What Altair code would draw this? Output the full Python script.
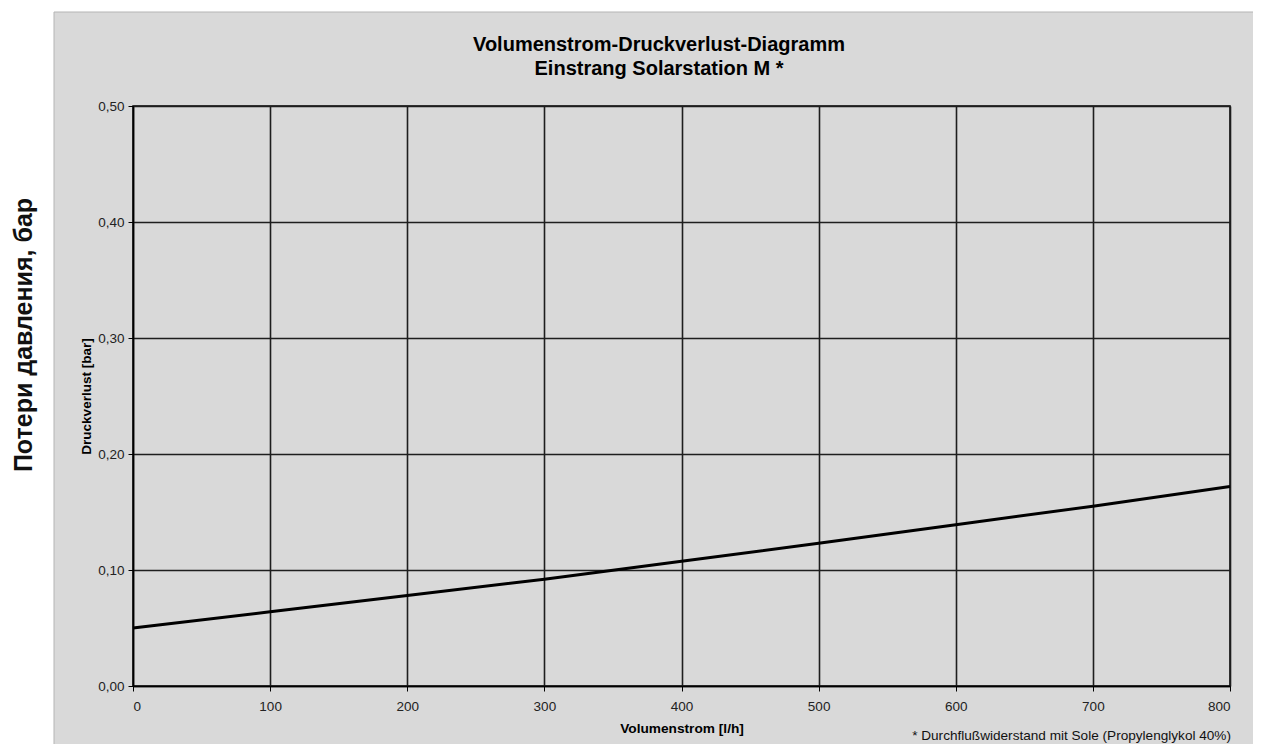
import altair as alt
import pandas as pd

flow = [0, 100, 200, 300, 400, 500, 600, 700, 800]
pressure = [0.050, 0.064, 0.078, 0.092, 0.1075, 0.123, 0.139, 0.155, 0.172]

title_lines = ["Volumenstrom-Druckverlust-Diagramm", "Einstrang Solarstation M *"]
x_title = "Volumenstrom [l/h]"
y_title = "Druckverlust [bar]"
outer_label = "Потери давления, бар"
footnote = "* Durchflußwiderstand mit Sole (Propylenglykol 40%)"

x_ticks = [0, 100, 200, 300, 400, 500, 600, 700, 800]
y_ticks = [0.0, 0.1, 0.2, 0.3, 0.4, 0.5]

FONT = "Liberation Sans"
W, H = 1097, 580
GRAY = "#d9d9d9"

df = pd.DataFrame({"flow": flow, "pressure": pressure})
one = alt.Data(values=[{"a": 1}])

# white margin outside the gray panel (left strip and thin top strip)
white_left = alt.Chart(one).mark_rect(fill="white", clip=False).encode(
    x=alt.value(-130), x2=alt.value(-79), y=alt.value(-110), y2=alt.value(H + 70)
)
white_top = alt.Chart(one).mark_rect(fill="white", clip=False).encode(
    x=alt.value(-130), x2=alt.value(W + 40), y=alt.value(-110), y2=alt.value(-94)
)
panel_border = alt.Chart(one).mark_rect(
    fill=None, stroke="#b5b5b5", strokeWidth=1, clip=False
).encode(
    x=alt.value(-79), x2=alt.value(W + 60), y=alt.value(-94), y2=alt.value(H + 80)
)

xs = alt.Scale(domain=[0, 800], nice=False, zero=True)
ys = alt.Scale(domain=[0, 0.5], nice=False, zero=True)

line = alt.Chart(df).mark_line(color="#000000", strokeWidth=3).encode(
    x=alt.X("flow:Q", scale=xs, axis=alt.Axis(
        values=x_ticks, title=x_title, grid=True, gridColor="#1e1e1e", gridWidth=1.6,
        domainColor="#000000", domainWidth=1.5, tickColor="#000000", tickSize=5,
        labelFont=FONT, labelFontSize=13.5, labelColor="#222222", labelPadding=8,
        titleFont=FONT, titleFontSize=13.7, titleFontWeight="bold", titleColor="#000000",
        titlePadding=9,
    )),
    y=alt.Y("pressure:Q", scale=ys, axis=alt.Axis(
        values=y_ticks, title=y_title, grid=True, gridColor="#1e1e1e", gridWidth=1.4,
        domainColor="#000000", domainWidth=1.5, tickColor="#000000", tickSize=5,
        labelFont=FONT, labelFontSize=13.5, labelColor="#222222", labelPadding=4,
        labelExpr="replace(format(datum.value, '.2f'), '.', ',')",
        titleFont=FONT, titleFontSize=13.5, titleFontWeight="bold", titleColor="#000000",
        titlePadding=4,
    )),
)

t1 = alt.Chart(one).mark_text(
    text=title_lines[0], font=FONT, fontSize=20, fontWeight="bold", color="#000000",
    align="center", baseline="middle"
).encode(x=alt.value(526), y=alt.value(-61))
t2 = alt.Chart(one).mark_text(
    text=title_lines[1], font=FONT, fontSize=20, fontWeight="bold", color="#000000",
    align="center", baseline="middle"
).encode(x=alt.value(526), y=alt.value(-37))

foot = alt.Chart(one).mark_text(
    text=footnote, font=FONT, fontSize=13.6, color="#111111", align="right", baseline="middle"
).encode(x=alt.value(W + 1), y=alt.value(630))

outer = alt.Chart(one).mark_text(
    text=outer_label, font=FONT, fontSize=25, fontWeight="bold", color="#111111",
    angle=270, align="center", baseline="middle"
).encode(x=alt.value(-109), y=alt.value(229))

chart = alt.layer(white_left, white_top, panel_border, line, t1, t2, foot, outer).properties(
    width=W, height=H,
    padding={"left": 125, "top": 98, "right": 23, "bottom": 58},
    autosize=alt.AutoSizeParams(type="none"),
    background=GRAY,
).configure_view(stroke="#000000", strokeWidth=1.5)

chart.save("out.html", embed_options={"renderer": "svg", "actions": False})
